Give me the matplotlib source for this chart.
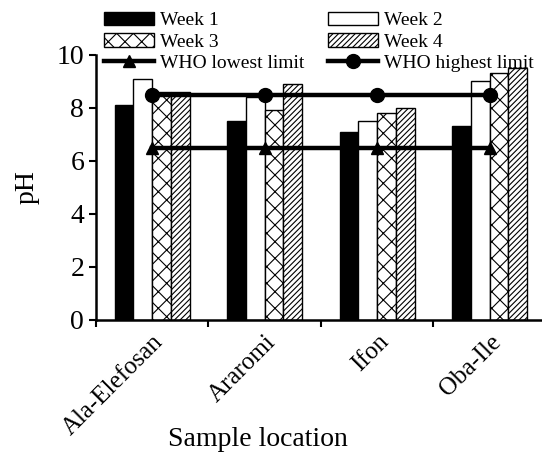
import matplotlib
matplotlib.use("Agg")
import matplotlib.pyplot as plt
import numpy as np

plt.rcParams['font.family'] = ['Liberation Serif', 'DejaVu Serif']
plt.rcParams['hatch.linewidth'] = 0.8

locations = ['Ala-Elefosan', 'Araromi', 'Ifon', 'Oba-Ile']
week1 = [8.1, 7.5, 7.1, 7.3]
week2 = [9.1, 8.4, 7.5, 9.0]
week3 = [8.6, 7.9, 7.8, 9.3]
week4 = [8.6, 8.9, 8.0, 9.5]
who_low = [6.5, 6.5, 6.5, 6.5]
who_high = [8.5, 8.5, 8.5, 8.5]

fig = plt.figure(figsize=(5.42, 4.53), dpi=100)
ax = fig.add_axes([0.177, 0.294, 0.83, 0.585])

x = np.arange(len(locations))
w = 0.167
b1 = ax.bar(x - 1.5 * w, week1, w, color='black', edgecolor='black', lw=1, label='Week 1')
b2 = ax.bar(x - 0.5 * w, week2, w, color='white', edgecolor='black', lw=1, label='Week 2')
b3 = ax.bar(x + 0.5 * w, week3, w, color='white', edgecolor='black', lw=1, hatch='xx', label='Week 3')
b4 = ax.bar(x + 1.5 * w, week4, w, color='white', edgecolor='black', lw=1, hatch='//////', label='Week 4')
l1, = ax.plot(x, who_low, color='black', lw=3.2, marker='^', ms=9, zorder=5, label='WHO lowest limit')
l2, = ax.plot(x, who_high, color='black', lw=3.2, marker='o', ms=10, zorder=5, label='WHO highest limit')

ax.set_xlim(-0.5, 3.5)
ax.set_ylim(0, 10)
ax.set_yticks([0, 2, 4, 6, 8, 10])
ax.set_xticks(x)
ax.set_xticklabels(locations, rotation=45, ha='right', rotation_mode='anchor', fontsize=18)
ax.set_xticks(np.arange(-0.5, 4, 1), minor=True)
ax.tick_params(axis='x', which='major', length=0, pad=8)
ax.tick_params(axis='x', which='minor', length=5, width=1.5)
ax.tick_params(axis='y', labelsize=20, length=5, width=1.5)
for s in ['top', 'right']:
    ax.spines[s].set_visible(False)
for s in ['left', 'bottom']:
    ax.spines[s].set_linewidth(1.8)

ax.set_xlabel('Sample location', fontsize=20)
ax.xaxis.set_label_coords(0.36, -0.405)
ax.set_ylabel('pH', fontsize=20)
ax.yaxis.set_label_coords(-0.125, 0.5)

fig.legend([b1, b3, l1, b2, b4, l2],
           ['Week 1', 'Week 3', 'WHO lowest limit', 'Week 2', 'Week 4', 'WHO highest limit'],
           ncol=2, loc='upper left', bbox_to_anchor=(0.17, 1.0), frameon=False,
           fontsize=14, handlelength=2.6, handletextpad=0.3, labelspacing=0.2,
           columnspacing=1.2, borderaxespad=0.2)

fig.savefig('out.png', dpi=100)
